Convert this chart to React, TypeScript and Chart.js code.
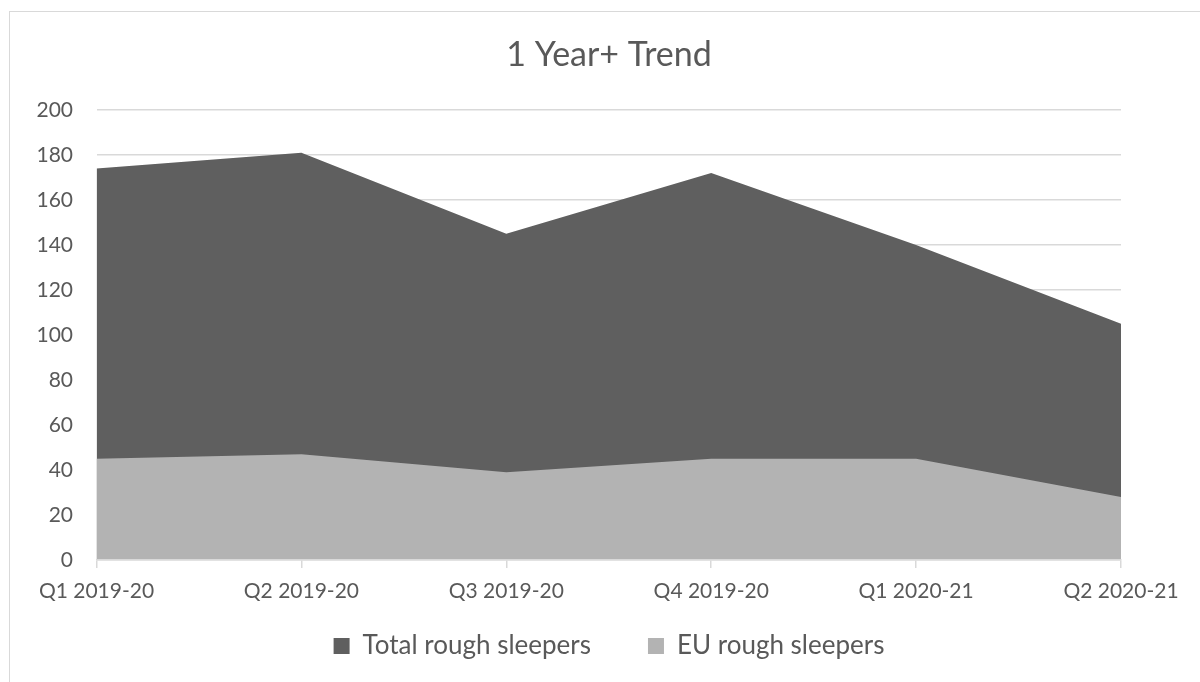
import React, { useEffect, useRef } from "react";
import { Chart, registerables } from "chart.js";

Chart.register(...registerables);

const categories = [
  "Q1 2019-20",
  "Q2 2019-20",
  "Q3 2019-20",
  "Q4 2019-20",
  "Q1 2020-21",
  "Q2 2020-21",
];
const totalRoughSleepers = [174, 181, 145, 172, 140, 105];
const euRoughSleepers = [45, 47, 39, 45, 45, 28];
const seriesNames = ["Total rough sleepers", "EU rough sleepers"];
const chartTitle = "1 Year+ Trend";

const FONT = "Lato, 'Open Sans', sans-serif";
const TEXT = "#595959";
const GRID = "#d9d9d9";
const CANVAS_W = 1218;
const CANVAS_H = 682;

export default function App() {
  const ref = useRef<HTMLCanvasElement | null>(null);

  useEffect(() => {
    if (!ref.current) return;
    const chart = new Chart(ref.current, {
      type: "line",
      data: {
        labels: categories,
        datasets: [
          {
            label: seriesNames[0],
            data: totalRoughSleepers,
            backgroundColor: "#5f5f5f",
            borderColor: "#5f5f5f",
            borderWidth: 0,
            fill: "origin",
            pointRadius: 0,
            tension: 0,
            order: 1,
          },
          {
            label: seriesNames[1],
            data: euRoughSleepers,
            backgroundColor: "#b3b3b3",
            borderColor: "#b3b3b3",
            borderWidth: 0,
            fill: "origin",
            pointRadius: 0,
            tension: 0,
            order: 0,
          },
        ],
      },
      options: {
        responsive: false,
        animation: false,
        devicePixelRatio: 1,
        layout: { padding: { left: 0, right: 0, top: 0, bottom: 13 } },
        plugins: {
          tooltip: { enabled: false },
          title: {
            display: true,
            text: chartTitle,
            color: TEXT,
            font: { family: FONT, size: 34, weight: "normal", lineHeight: 1.2 },
            padding: { top: 34.6, bottom: 34.6 },
          },
          legend: {
            display: true,
            position: "bottom",
            labels: {
              color: TEXT,
              font: { family: FONT, size: 26 },
              boxWidth: 16,
              boxHeight: 16,
              padding: 57,
              sort: (a: any, b: any) => a.datasetIndex - b.datasetIndex,
            },
          },
        },
        scales: {
          x: {
            type: "category",
            offset: false,
            grid: {
              display: true,
              drawOnChartArea: false,
              drawTicks: true,
              tickLength: 8,
              color: GRID,
              lineWidth: 1.5,
            },
            border: { display: true, color: GRID, width: 1.5, z: 1 },
            ticks: {
              color: TEXT,
              font: { family: FONT, size: 21, lineHeight: 1.2 },
              mirror: true,
              padding: -44.2,
              maxRotation: 0,
              autoSkip: false,
              z: 1,
            },
            afterFit: (scale: any) => {
              scale.height = 16;
            },
          },
          y: {
            min: 0,
            max: 200,
            grid: {
              color: GRID,
              lineWidth: 1.5,
              drawTicks: false,
            },
            border: { display: false },
            ticks: {
              stepSize: 20,
              color: TEXT,
              font: { family: FONT, size: 21 },
              padding: 23.5,
            },
            afterFit: (scale: any) => {
              scale.width = 96.5;
            },
          },
          yRight: {
            position: "right",
            display: true,
            grid: { display: false },
            border: { display: false },
            ticks: { display: false },
            afterFit: (scale: any) => {
              scale.width = CANVAS_W - 1121;
            },
          },
        },
      },
    });
    return () => chart.destroy();
  }, []);

  return (
    <div
      style={{
        position: "fixed",
        left: 0,
        top: 0,
        width: 1200,
        height: 682,
        background: "#ffffff",
        overflow: "hidden",
      }}
    >
      <div
        style={{
          position: "absolute",
          left: 9,
          top: 11,
          width: 1300,
          height: 800,
          borderLeft: "1.5px solid #d9d9d9",
          borderTop: "1.5px solid #d9d9d9",
        }}
      />
      <canvas
        ref={ref}
        width={CANVAS_W}
        height={CANVAS_H}
        style={{ position: "absolute", left: 0, top: 0, width: CANVAS_W, height: CANVAS_H }}
      />
    </div>
  );
}
